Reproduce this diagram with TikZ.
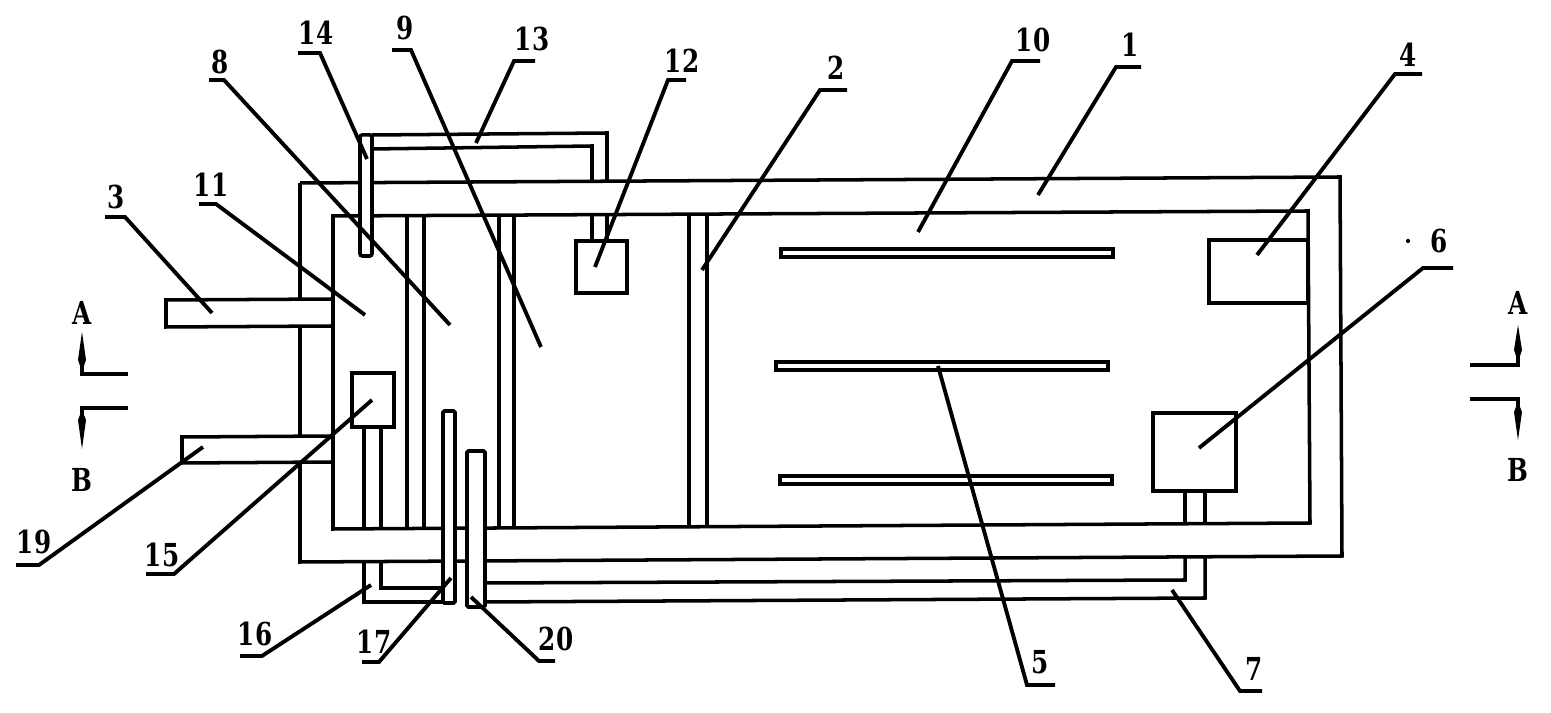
\documentclass[tikz,border=0pt]{standalone}
\usepackage{fontspec}
\newfontfamily\labfont{DejaVu Serif}
\newcommand{\narrowbf}[1]{\scalebox{.78}[1]{\fontsize{9}{10}\labfont\bfseries #1}}
\tikzset{
	part/.style={draw=black,line width=1pt,line join=miter},
	pipe/.style={part,fill=white},
	plate/.style={draw=black,line width=1pt},
	leader/.style={draw=black,line width=1.1pt},
	lab/.style={inner sep=0pt,text=black},
	spike/.style={fill=black,draw=none}
}
\begin{document}
\begin{tikzpicture}[x=0.01cm,y=-0.01cm]
	\useasboundingbox (0,0) rectangle (1551,713);
	% inlet and outlet pipes
	\draw[pipe] (333,299) -- (166,300) -- (166,327) -- (333,326);
	\draw[pipe] (333,436) -- (182,437) -- (182,463) -- (333,462);
	% walls
	\draw[part] (300,183) -- (1340,177) -- (1342,556) -- (300,562) -- (300,463);
	\draw[part] (300,436) -- (300,327);
	\draw[part] (300,299) -- (300,183);
	\draw[part] (333,216) -- (1308,211) -- (1310,523) -- (333,529) -- cycle;
	% partitions
	\foreach \xa/\ya/\yb in {407/216/529,424/216/529,499/215/528,514/215/528,689/214/526,707/214/526}
		\draw[part] (\xa,\ya) -- (\xa,\yb);
	% upper return pipe
	\draw[part] (372,135) -- (607,133) -- (607,180);
	\draw[part] (372,149) -- (592,146) -- (592,180);
	\draw[part] (592,214) -- (592,241);
	\draw[part] (607,214) -- (607,241);
	% boxes
	\draw[pipe] (576,241) rectangle (627,293);
	\draw[pipe] (352,373) rectangle (394,427);
	\draw[pipe] (1209,240) rectangle (1308,303);
	\draw[pipe] (1153,413) rectangle (1236,491);
	% stubs under the boxes
	\draw[part] (364,427) -- (364,529);
	\draw[part] (381,427) -- (381,529);
	\draw[part] (1185,491) -- (1185,523);
	\draw[part] (1205,491) -- (1205,523);
	% lower pipes
	\draw[part] (364,562) -- (364,602) -- (443,602);
	\draw[part] (381,562) -- (381,588) -- (443,588);
	\draw[part] (485,583) -- (1185,580) -- (1185,556);
	\draw[part] (485,602) -- (1205,598) -- (1205,556);
	% rods
	\draw[pipe,rounded corners=.6pt] (360,256) -- (360,135) -- (372,135) -- (372,256) -- cycle;
	\draw[pipe,rounded corners=.4pt] (443,603) -- (443,411) -- (455,411) -- (455,603) -- cycle;
	\draw[pipe,rounded corners=.4pt] (467,607) -- (467,451) -- (485,451) -- (485,607) -- cycle;
	% plates
	\draw[plate] (781,249) rectangle (1113,257);
	\draw[plate] (776,362) rectangle (1108,370);
	\draw[plate] (780,476) rectangle (1112,484);
	% labels and leaders
	\foreach \num/\lx/\ly/\ax/\bx/\by/\cx/\cy in {
		1/1130/45/1141/1116/67/1038/195,
		2/836/68/847/820/90/702/270,
		3/116/197/105/125/217/212/313,
		4/1408/55/1422/1395/74/1257/255,
		5/1040/662/1055/1027/685/938/366,
		6/1439/241/1453/1423/268/1199/448,
		7/1254/669/1262/1240/691/1172/590,
		8/220/62/209/224/80/450/325,
		9/405/28/392/411/50/541/347,
		10/1033/40/1040/1012/61/918/232,
		11/211/185/199/216/204/365/315,
		12/682/61/686/668/80/595/267,
		13/532/39/535/514/61/476/143,
		14/316/33/298/320/53/367/159,
		15/162/555/146/174/574/372/400,
		16/255/634/240/262/656/371/585,
		17/374/642/362/379/662/451/578,
		19/34/542/16/39/565/203/447,
		20/556/639/555/539/661/471/597}
	{
		\node[lab] (n\num) at (\lx,\ly) {\narrowbf{\num}};
		\coordinate (a\num) at (\ax,\by);
		\coordinate (b\num) at (\bx,\by);
		\coordinate (c\num) at (\cx,\cy);
		\draw[leader] (a\num) -- (b\num) -- (c\num);
	}
	\fill (1408,241) circle (0.6pt);
	% section marks
	\node[lab] (secAl) at (82,313) {\narrowbf{A}};
	\node[lab] (secBl) at (82,480) {\narrowbf{B}};
	\node[lab] (secAr) at (1518,303) {\narrowbf{A}};
	\node[lab] (secBr) at (1518,470) {\narrowbf{B}};
	\draw[leader] (82,360) -- (82,374) -- (128,374);
	\draw[leader] (128,408) -- (82,408) -- (82,420);
	\draw[leader] (1470,365) -- (1518,365) -- (1518,355);
	\draw[leader] (1470,399) -- (1518,399) -- (1518,410);
	\fill[spike] (82,332) -- (86,360) -- (82,372) -- (78,360) -- cycle;
	\fill[spike] (82,449) -- (86,420) -- (82,410) -- (78,420) -- cycle;
	\fill[spike] (1518,325) -- (1522,350) -- (1518,362) -- (1514,350) -- cycle;
	\fill[spike] (1518,440) -- (1522,412) -- (1518,402) -- (1514,412) -- cycle;
\end{tikzpicture}
\end{document}
